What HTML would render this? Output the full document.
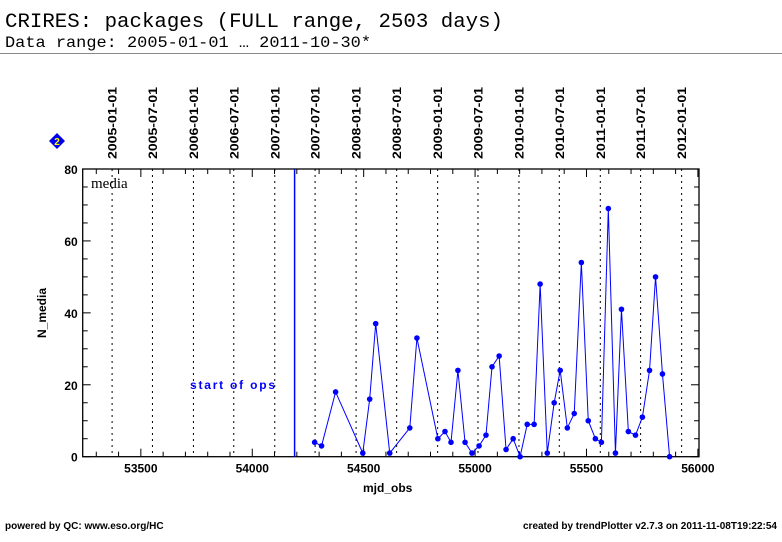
<!DOCTYPE html>
<html><head><meta charset="utf-8"><style>
body{margin:0;background:#fff;width:782px;height:542px;overflow:hidden;font-family:"Liberation Sans",sans-serif}
svg{display:block}
</style></head><body>
<svg id="chart" width="782" height="542" viewBox="0 0 782 542" xmlns="http://www.w3.org/2000/svg">
<text x="5" y="27" font-family="Liberation Mono, monospace" font-size="20.5" fill="#000" textLength="498" lengthAdjust="spacingAndGlyphs">CRIRES: packages (FULL range, 2503 days)</text>
<text x="5" y="47" font-family="Liberation Mono, monospace" font-size="16" fill="#000" textLength="366" lengthAdjust="spacingAndGlyphs">Data range: 2005-01-01 … 2011-10-30*</text>
<line x1="0" y1="53.5" x2="782" y2="53.5" stroke="#888" stroke-width="1"/>
<g>
<polygon points="57,133 65,141 57,149 49,141" fill="#0000ee"/>
<text x="57" y="145" text-anchor="middle" font-size="10" font-weight="bold" fill="#ffff00">2</text>
</g>
<g id="grid"></g>
<g id="axes"></g>
<g id="marks"></g>
<text x="91" y="188" font-family="Liberation Serif, serif" font-size="15" fill="#000">media</text>
<text transform="translate(46,313) rotate(-90)" text-anchor="middle" font-size="12" font-weight="bold" fill="#000">N_media</text>
<text x="363" y="492" font-size="12" font-weight="bold" fill="#000">mjd_obs</text>
<text x="190" y="389" font-size="12" font-weight="bold" fill="#0000ff" textLength="85" lengthAdjust="spacing">start of ops</text>
<text x="5" y="529" font-size="10" font-weight="bold" fill="#000">powered by QC: www.eso.org/HC</text>
<text x="777" y="529" text-anchor="end" font-size="10" font-weight="bold" fill="#000">created by trendPlotter v2.7.3 on 2011-11-08T19:22:54</text>
</svg>
<script>
const mjd=[54280,54311,54374,54496,54527,54554,54617,54707,54739,54833,54865,54892,54923,54955,54986,55018,55049,55076,55108,55139,55171,55202,55234,55265,55292,55324,55355,55382,55414,55445,55477,55508,55540,55567,55598,55630,55657,55688,55720,55751,55783,55810,55841,55873];
const nMedia=[4,3,18,1,16,37,1,8,33,5,7,4,24,4,1,3,6,25,28,2,5,0,9,9,48,1,15,24,8,12,54,10,5,4,69,1,41,7,6,11,24,50,23,0];
const dateLabels=["2005-01-01","2005-07-01","2006-01-01","2006-07-01","2007-01-01","2007-07-01","2008-01-01","2008-07-01","2009-01-01","2009-07-01","2010-01-01","2010-07-01","2011-01-01","2011-07-01","2012-01-01"];
const dateMjd=[53371,53552,53736,53917,54101,54282,54466,54648,54832,55013,55197,55378,55562,55743,55927];
const xTicks=[53500,54000,54500,55000,55500,56000];
const yTicks=[0,20,40,60,80];
const startOps=54190;
const X0=82.7,X1=699,Y0=456.7,Y1=169,DMIN=53239,DMAX=56005;
const sx=v=>X0+(v-DMIN)/(DMAX-DMIN)*(X1-X0);
const sy=v=>Y0-(v/80)*(Y0-Y1);
const NS="http://www.w3.org/2000/svg";
function mk(parent,tag,attrs){const e=document.createElementNS(NS,tag);for(const k in attrs)e.setAttribute(k,attrs[k]);document.getElementById(parent).appendChild(e);return e;}
dateMjd.forEach((d,i)=>{
 const x=sx(d);
 const l=mk('grid','line',{x1:x,y1:Y1,x2:x,y2:Y0,stroke:'#000','stroke-width':1,'stroke-dasharray':'2,4'});
 
 
 const t=mk('grid','text',{transform:`translate(${x+4.5},159) rotate(-90)`,'font-size':12,'font-weight':'bold',fill:'#000',textLength:72,lengthAdjust:'spacingAndGlyphs'});
 t.textContent=dateLabels[i];
 
 
});
const fr=mk('axes','rect',{x:X0,y:Y1,width:X1-X0,height:Y0-Y1,fill:'none',stroke:'#000','stroke-width':1.3});


for(let v=53300;v<=56000;v+=100){const x=sx(v);const big=v%500===0;
 const a=mk('axes','line',{x1:x,y1:Y0,x2:x,y2:Y0-(big?8:5),stroke:'#000'});
 const b=mk('axes','line',{x1:x,y1:Y1,x2:x,y2:Y1+(big?8:5),stroke:'#000'});}
xTicks.forEach(v=>{const t=mk('axes','text',{x:sx(v),y:Y0+16,'text-anchor':'middle','font-size':12,'font-weight':'bold',fill:'#000'});t.textContent=v;
 });
for(let v=0;v<=80;v+=5){const y=sy(v);const big=v%20===0;
 const a=mk('axes','line',{x1:X0,y1:y,x2:X0+(big?8:5),y2:y,stroke:'#000'});
 const b=mk('axes','line',{x1:X1,y1:y,x2:X1-(big?8:5),y2:y,stroke:'#000'});}
yTicks.forEach(v=>{const t=mk('axes','text',{x:X0-5,y:sy(v)+5,'text-anchor':'end','font-size':12,'font-weight':'bold',fill:'#000'});t.textContent=v;
 });
const so=mk('marks','line',{x1:sx(startOps),y1:Y1,x2:sx(startOps),y2:Y0,stroke:'#0000ff','stroke-width':1.5});


const pl=mk('marks','polyline',{points:mjd.map((d,i)=>sx(d)+','+sy(nMedia[i])).join(' '),fill:'none',stroke:'#0000ff','stroke-width':1});


mjd.forEach((d,i)=>{const c=mk('marks','circle',{cx:sx(d),cy:sy(nMedia[i]),r:2.8,fill:'#0000ff'});
 
 });
</script>
</body></html>
